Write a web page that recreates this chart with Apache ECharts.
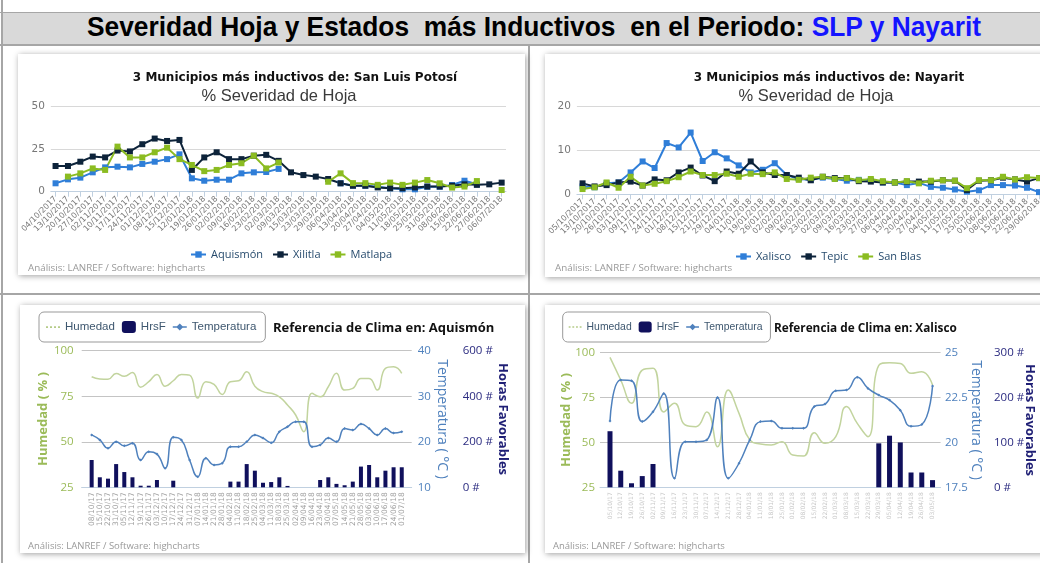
<!DOCTYPE html>
<html><head><meta charset="utf-8">
<script src="https://cdn.jsdelivr.net/npm/echarts@6.0.0/dist/echarts.min.js"></script>
<style>
html,body{margin:0;padding:0;width:1040px;height:563px;overflow:hidden;background:#fff;}
body{position:relative;}
.ln{position:absolute;background:#a6a6a6;}
#tbar{position:absolute;left:3px;top:13px;width:1037px;height:31px;background:#d9d9d9;}
#ttl{position:absolute;left:87px;top:14px;white-space:pre;font:bold 27px/27px 'Liberation Sans Narrow','Liberation Sans',Arial,sans-serif;color:#000;transform-origin:0 0;}
#ttl .b{color:#1414ff;}
.card{position:absolute;background:#fff;box-shadow:1px 1px 6px rgba(0,0,0,.38);overflow:hidden;}
.card div.c{position:absolute;left:0;top:0;width:100%;height:100%;}
</style></head>
<body>
<div class="ln" style="left:0;top:12px;width:1040px;height:1px;"></div>
<div id="tbar"></div>
<div id="ttl"><span>Severidad Hoja y Estados  más Inductivos  en el Periodo: </span><span class="b">SLP y Nayarit</span></div>
<div class="ln" style="left:0;top:44px;width:1040px;height:2px;"></div>
<div class="ln" style="left:1px;top:0;width:2px;height:563px;"></div>
<div class="ln" style="left:528px;top:44px;width:2px;height:519px;"></div>
<div class="ln" style="left:0;top:293px;width:1040px;height:2px;"></div>

<div class="card" style="left:18px;top:54px;width:507px;height:221px;"><div class="c" id="c1"></div></div>
<div class="card" style="left:545px;top:54px;width:525px;height:223px;"><div class="c" id="c2"></div></div>
<div class="card" style="left:20px;top:305px;width:505px;height:248px;"><div class="c" id="c3"></div></div>
<div class="card" style="left:545px;top:305px;width:505px;height:248px;"><div class="c" id="c4"></div></div>

<script>
// ---------- DATA ----------
const slpCats = ['04/10/2017','13/10/2017','20/10/2017','27/10/2017','02/11/2017','10/11/2017','17/11/2017','24/11/2017','01/12/2017','08/12/2017','15/12/2017','12/01/2018','19/01/2018','26/01/2018','02/02/2018','09/02/2018','16/02/2018','23/02/2018','02/03/2018','09/03/2018','15/03/2018','23/03/2018','29/03/2018','06/04/2018','13/04/2018','20/04/2018','27/04/2018','04/05/2018','11/05/2018','18/05/2018','25/05/2018','31/05/2018','08/06/2018','15/06/2018','22/06/2018','27/06/2018','06/07/2018'];
const slpAquismon = [4.9,7.2,8.2,11.3,14.2,14.6,14.2,16.2,17.5,19,21.8,7.8,6.4,7,7,10.7,11.3,11.5,13.3,null,null,null,null,4.9,3.5,3.5,2.9,2,1.4,1.4,2.9,2.9,3.9,6.4,4.3,null,null];
const slpXilitla = [15,15,17.5,20.5,20,24,23.5,27.7,31,29.6,30.2,12.7,20,23,19,19,21,21.5,18,11.3,9.7,8.8,7.4,4.9,3.5,3.5,2.5,2,2,2.5,3,3,3.5,4.3,4,4.3,5.3];
const slpMatlapa = [null,8.8,10.7,13.6,12.7,26.3,20,20,23,25.7,19,15.6,12,12.7,15.6,16.6,21,13.6,17,null,null,null,5.8,10.7,5,5,4,5.3,4,5.3,6.8,4.9,2.4,3,6.2,null,1];

const nayCats = ['05/10/2017','13/10/2017','20/10/2017','26/10/2017','03/11/2017','09/11/2017','17/11/2017','24/11/2017','01/12/2017','08/12/2017','15/12/2017','21/12/2017','29/12/2017','04/01/2018','11/01/2018','19/01/2018','26/01/2018','02/02/2018','09/02/2018','16/02/2018','23/02/2018','02/03/2018','09/03/2018','16/03/2018','23/03/2018','27/03/2018','06/04/2018','13/04/2018','20/04/2018','27/04/2018','04/05/2018','11/05/2018','17/05/2018','25/05/2018','01/06/2018','08/06/2018','15/06/2018','22/06/2018','29/06/2018'];
const nayXalisco = [1.8,1.6,2.5,2.7,5,7.5,6,11.7,10.7,14.1,7.6,9.6,8.2,6.6,5,5.6,7.1,4.4,3.5,3.3,3.8,3.5,3.1,3.3,3.2,2.7,2.7,2.1,2.6,1.7,1.5,1.1,0.6,0.9,2.1,2.1,2,1.5,0.5];
const nayTepic = [2.5,1.8,2.1,2.7,2.9,2,3.4,3.2,5,6.1,4.3,3,5.2,4.7,7.5,5,4.4,4.4,3.8,3.2,4,3.7,3.7,3,2.9,2.7,2.7,2.9,2.9,2.9,3.2,3.1,1,3.1,3.2,3.8,3.4,2.9,3.7];
const naySanBlas = [1.2,1.6,2.7,1.5,4,2,2.4,3,3.9,5.2,4.4,4.4,4.7,4,4.7,4.6,5,3.5,3.3,3.8,4,3.5,3.7,3.2,3.5,3,2.7,3,2.5,3.1,3.2,3.1,1.4,3.2,3.2,4,3.4,3.9,3.7];

const aqCats = ['08/10/17','15/10/17','22/10/17','31/10/17','05/11/17','12/11/17','19/11/17','26/11/17','03/12/17','10/12/17','17/12/17','24/12/17','31/12/17','07/01/18','14/01/18','21/01/18','28/01/18','04/02/18','11/02/18','18/02/18','25/02/18','04/03/18','11/03/18','18/03/18','25/03/18','02/04/18','09/04/18','16/04/18','23/04/18','30/04/18','07/05/18','14/05/18','21/05/18','28/05/18','03/06/18','10/06/18','17/06/18','24/06/18','01/07/18'];
const aqHumedad = [85.7,84.5,84.3,87.5,86,88,80,83,87,80.5,83.5,87,86.6,74,83,81.5,76,83,83.5,88.5,80.5,77.5,76.6,74.7,70.2,64.7,55.5,76.6,74.7,80.2,87.6,78.4,79.3,84.8,84.8,78.4,90.3,91.2,87.6];
const aqHrsF = [120,44,38,102,67,44,7,7,32,0,29,0,0,0,0,0,0,25,25,102,73,20,23,44,6,0,0,0,32,44,15,9,25,91,98,44,73,88,88];
const aqTemp = [21.5,20.4,18.6,20,19.1,19.7,16,17.8,17.3,14.2,21,20.4,16,12.3,16.4,14.9,15.3,18.9,18.9,20,21.5,20.8,19.8,22.2,23.3,24.4,24.4,18.9,19.3,20.8,20,22.9,22.6,23.9,22.9,21.5,22.9,21.9,22.2];

const xaCats = ['05/10/17','12/10/17','19/10/17','26/10/17','02/11/17','09/11/17','16/11/17','23/11/17','30/11/17','07/12/17','14/12/17','21/12/17','28/12/17','04/01/18','11/01/18','18/01/18','25/01/18','01/02/18','08/02/18','15/02/18','22/02/18','01/03/18','08/03/18','15/03/18','22/03/18','29/03/18','05/04/18','12/04/18','19/04/18','26/04/18','03/05/18'];
const xaHumedad = [97.4,84.8,71.8,90.3,91.3,67,71.8,59.7,58.8,67,47.6,79.2,66.2,51.4,49.1,48.6,50.4,43,42.4,55.4,49.5,53.2,70,60.6,53.2,93,94.4,94,88.5,89.4,82];
const xaHrsF = [125,37,9,25,52,0,0,0,0,0,0,0,0,0,0,0,0,0,0,0,0,0,0,0,0,98,115,100,33,33,16];
const xaTemp = [21.2,23.48,23.44,21.16,21.71,22.73,18,20.04,20.04,20.14,22.5,18,18.84,20.14,21.16,21.2,20.79,20.79,20.79,22.0,22.14,22.88,22.92,23.63,23.01,22.64,22.36,21.8,20.9,21.0,23.14];

// ---------- HELPERS ----------
const OS = "'Open Sans','DejaVu Sans',sans-serif";
const LS = "'Liberation Sans',Arial,sans-serif";
const DV = "'DejaVu Sans',sans-serif";
const pts = a => a.map((v, i) => [i, v == null ? '-' : v]);
const ticks = n => Array.from({length: n}, (_, i) => i);
const CREDIT = 'Análisis: LANREF / Software: highcharts';
const ICON_DOTS = 'path://M0,0h0.01v0.01h-0.01z M13.99,11.99h0.01v0.01h-0.01z M0,5.3h2v1.6h-2z M4,5.3h2v1.6h-2z M8,5.3h2v1.6h-2z M12,5.3h2v1.6h-2z';
const ICON_TEMP = 'path://M0,0h0.01v0.01h-0.01z M13.99,11.99h0.01v0.01h-0.01z M0,5.2h14v1.6h-14z M7,2.4l3.6,3.6l-3.6,3.6l-3.6,-3.6z';

function sevOption(c) {
  const n = c.cats.length;
  const mk = (name, data, color) => ({
    name, type: 'line', data: pts(data), symbol: 'rect', symbolSize: 6,
    lineStyle: {color, width: 2}, itemStyle: {color}, connectNulls: false
  });
  return {
    animation: false,
    title: [
      {text: c.title, left: c.tx, top: 13, textAlign: 'center',
       textStyle: {fontFamily: DV, fontSize: 12, fontWeight: 'bold', color: '#111'}},
      {text: '% Severidad de Hoja', left: c.sx, top: 29, textAlign: 'center',
       textStyle: {fontFamily: LS, fontSize: 16.5, fontWeight: 'normal', color: '#3a3a3a'}}
    ],
    grid: {left: c.gl, right: c.gr, top: c.gt, bottom: c.gb},
    legend: {left: c.lx, top: c.ly, padding: 0, itemWidth: 15, itemHeight: 8, itemGap: 9,
      textStyle: {fontFamily: OS, fontSize: 11, color: '#274b6d'}},
    xAxis: {
      type: 'value', min: c.xmin, max: c.xmax,
      axisLine: {lineStyle: {color: '#c0d0e0'}},
      axisTick: {customValues: ticks(n), length: 5, lineStyle: {color: '#c0d0e0'}},
      axisLabel: {customValues: ticks(n), formatter: v => c.cats[v], rotate: 45, fontSize: 8,
        fontFamily: DV, color: '#777', margin: 6},
      splitLine: {show: false}
    },
    yAxis: {
      type: 'value', min: 0, max: c.ymax, interval: c.yint,
      axisLine: {show: false}, axisTick: {show: false},
      axisLabel: {color: '#777', fontSize: 10.5, fontFamily: DV, margin: 6},
      splitLine: {lineStyle: {color: '#d8d8d8'}}
    },
    graphic: [{type: 'text', left: c.cx, top: c.cy,
      style: {text: CREDIT, fill: '#999', font: "9.8px 'Open Sans','DejaVu Sans',sans-serif"}}],
    series: c.series.map(s => mk(s[0], s[1], s[2]))
  };
}

function climaOption(c) {
  const n = c.cats.length;
  return {
    animation: false,
    title: {text: c.title, left: c.tx, top: c.ty,
      textStyle: {fontFamily: OS, fontSize: c.tfs, fontWeight: 'bold', color: '#111'}},
    legend: {left: c.lx, top: 7, padding: c.lpad, borderColor: '#999', borderWidth: 1,
      borderRadius: 5, itemGap: 7, itemWidth: c.liw, itemHeight: c.lih,
      textStyle: {fontFamily: LS, fontSize: c.lfs, color: '#3e576f'},
      data: [{name: 'Humedad', icon: ICON_DOTS}, {name: 'HrsF', icon: 'roundRect'},
             {name: 'Temperatura', icon: ICON_TEMP}]},
    grid: {left: c.gl, right: c.gr, top: c.gt, bottom: c.gb},
    xAxis: {
      type: 'value', min: c.xmin, max: c.xmax,
      axisLine: {lineStyle: {color: '#c0d0e0'}},
      axisTick: {show: false},
      axisLabel: {customValues: ticks(n), formatter: v => c.cats[v], rotate: 90, fontSize: c.xfs,
        fontFamily: DV, color: c.xcol, margin: 5},
      splitLine: {show: false}
    },
    yAxis: [
      {type: 'value', position: 'left', min: 25, max: 100, interval: 25,
       name: 'Humedad ( % )', nameLocation: 'middle', nameGap: c.hg, nameMoveOverlap: false,
       nameTextStyle: {color: '#9bbb59', fontWeight: 'bold', fontSize: 13, fontFamily: OS},
       axisLine: {show: false}, axisTick: {show: false},
       axisLabel: {color: '#9bbb59', fontSize: 11.5, fontFamily: OS, margin: c.hm},
       splitLine: {lineStyle: {color: '#c4c4c4'}}},
      {type: 'value', position: 'right', min: c.tmin, max: c.tmax, interval: c.tint,
       name: 'Temperatura ( °C )', nameLocation: 'middle', nameRotate: -90, nameGap: c.tg, nameMoveOverlap: false,
       nameTextStyle: {color: '#4f81bd', fontSize: 14, fontFamily: OS},
       axisLine: {show: false}, axisTick: {show: false},
       axisLabel: {color: '#4f81bd', fontSize: 11.5, fontFamily: OS, margin: c.tm},
       splitLine: {show: false}},
      {type: 'value', position: 'right', offset: c.ho, min: 0, max: c.hmax, interval: c.hint,
       name: 'Horas Favorables', nameLocation: 'middle', nameRotate: -90, nameGap: c.fg, nameMoveOverlap: false,
       nameTextStyle: {color: '#1f1f75', fontWeight: 'bold', fontSize: 13, fontFamily: OS},
       axisLine: {show: false}, axisTick: {show: false},
       axisLabel: {color: '#2b2b80', fontSize: 11.5, fontFamily: OS, margin: c.tm, formatter: '{value} #'},
       splitLine: {show: false}}
    ],
    graphic: [{type: 'text', left: 8, top: 236,
      style: {text: CREDIT, fill: '#999', font: "9.5px 'Open Sans','DejaVu Sans',sans-serif"}}],
    series: [
      {name: 'Humedad', type: 'line', yAxisIndex: 0, smooth: 0.5, symbol: 'none', data: pts(c.hum),
       lineStyle: {color: '#c2d49e', width: 1.5}, itemStyle: {color: '#b5cb88'}},
      {name: 'HrsF', type: 'bar', yAxisIndex: 2, barWidth: c.bw, data: pts(c.hrs),
       itemStyle: {color: '#10105c'}},
      {name: 'Temperatura', type: 'line', yAxisIndex: 1, smooth: 0.5, symbol: 'diamond', symbolSize: 3,
       data: pts(c.temp), lineStyle: {color: '#4f81bd', width: 1.5}, itemStyle: {color: '#4f81bd'}}
    ]
  };
}

// ---------- CHARTS ----------
const c1 = echarts.init(document.getElementById('c1'));
c1.setOption(sevOption({
  cats: slpCats, title: '3 Municipios más inductivos de: San Luis Potosí', tx: 272, sx: 256,
  gl: 30, gr: 19, gt: 52, gb: 83.3, xmin: -0.38, xmax: 36.35, ymax: 50, yint: 25,
  lx: 172, ly: 195, cx: 10, cy: 209,
  series: [['Aquismón', slpAquismon, '#2f7ed8'], ['Xilitla', slpXilitla, '#0d233a'], ['Matlapa', slpMatlapa, '#8bbc21']]
}));

const c2 = echarts.init(document.getElementById('c2'));
c2.setOption(sevOption({
  cats: nayCats, title: '3 Municipios más inductivos de: Nayarit', tx: 279, sx: 266,
  gl: 30, gr: 25, gt: 52.7, gb: 82.7, xmin: -0.47, xmax: 38.5, ymax: 20, yint: 10,
  lx: 190, ly: 197, cx: 10, cy: 209,
  series: [['Xalisco', nayXalisco, '#2f7ed8'], ['Tepic', nayTepic, '#0d233a'], ['San Blas', naySanBlas, '#8bbc21']]
}));

const c3 = echarts.init(document.getElementById('c3'));
c3.setOption(climaOption({
  cats: aqCats, title: 'Referencia de Clima en: Aquismón', tx: 248, ty: 12, tfs: 13,
  lx: 19, lpad: [9, 9, 9, 7], liw: 14, lih: 12, lfs: 11.5,
  gl: 61.7, gr: 113.3, gt: 45.7, gb: 65.7, xmin: -1.22, xmax: 39.22, xfs: 7.5, xcol: '#a0a0a0',
  hum: aqHumedad, hrs: aqHrsF, temp: aqTemp, bw: 4,
  tmin: 10, tmax: 40, tint: 10, hmax: 600, hint: 200,
  hg: 32, hm: 8, tg: 23, tm: 6, ho: 45, fg: 40
}));

const c4 = echarts.init(document.getElementById('c4'));
c4.setOption(climaOption({
  cats: xaCats, title: 'Referencia de Clima en: Xalisco', tx: 224, ty: 13, tfs: 11.8,
  lx: 17.7, lpad: [9.5, 8, 9.5, 6], liw: 13, lih: 11, lfs: 10.4,
  gl: 55, gr: 109.4, gt: 47.7, gb: 65.7, xmin: -0.93, xmax: 30.75, xfs: 6, xcol: '#c8c8c8',
  hum: xaHumedad, hrs: xaHrsF, temp: xaTemp, bw: 5,
  tmin: 17.5, tmax: 25, tint: 2.5, hmax: 300, hint: 100,
  hg: 27, hm: 5, tg: 28, tm: 4.4, ho: 49, fg: 34
}));

// fit title width
const t = document.getElementById('ttl');
const w = t.getBoundingClientRect().width;
t.style.transform = 'scaleX(' + (894 / w) + ')';
</script>
</body></html>
